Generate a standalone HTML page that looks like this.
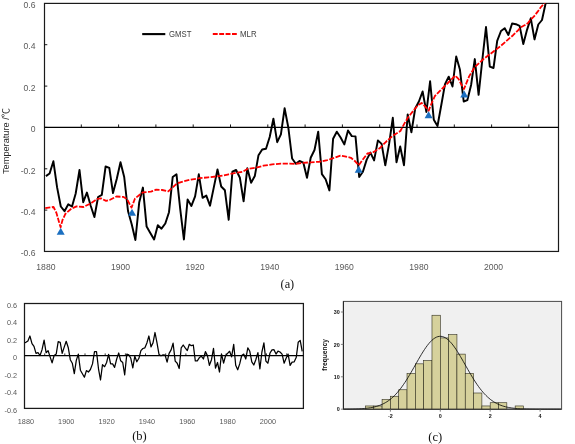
<!DOCTYPE html>
<html><head><meta charset="utf-8"><title>Figure</title>
<style>
html,body{margin:0;padding:0;background:#fff;}
svg{display:block;}
text{font-family:"Liberation Sans","Noto Sans CJK SC",sans-serif;}
.ax{font-size:8.6px;fill:#595959;}
.axb{font-size:7.3px;fill:#595959;}
.yt{font-size:8.6px;fill:#262626;}
.lg{font-size:8.6px;fill:#404040;}
.cap{font-family:"Liberation Serif",serif;font-size:12.3px;fill:#111;}
.cap2{font-family:"Liberation Serif",serif;font-size:12.5px;fill:#111;}
.cx{font-size:5.4px;fill:#111;font-weight:bold;}
.cy{font-size:6.6px;fill:#111;font-weight:bold;}
</style></head><body>
<svg width="575" height="444" viewBox="0 0 575 444">
<defs><clipPath id="ca"><rect x="44.5" y="3.2" width="514" height="248.2"/></clipPath></defs>
<rect width="575" height="444" fill="#fff"/>
<rect x="44.5" y="3.4" width="514.0" height="248.04999999999998" fill="none" stroke="#1a1a1a" stroke-width="1.2"/>
<line x1="44.5" y1="127.45" x2="558.5" y2="127.45" stroke="#000" stroke-width="1.3"/>
<line x1="81.3" y1="124.45" x2="81.3" y2="127.45" stroke="#000" stroke-width="0.9"/>
<line x1="118.6" y1="124.45" x2="118.6" y2="127.45" stroke="#000" stroke-width="0.9"/>
<line x1="155.9" y1="124.45" x2="155.9" y2="127.45" stroke="#000" stroke-width="0.9"/>
<line x1="193.2" y1="124.45" x2="193.2" y2="127.45" stroke="#000" stroke-width="0.9"/>
<line x1="230.5" y1="124.45" x2="230.5" y2="127.45" stroke="#000" stroke-width="0.9"/>
<line x1="267.8" y1="124.45" x2="267.8" y2="127.45" stroke="#000" stroke-width="0.9"/>
<line x1="305.1" y1="124.45" x2="305.1" y2="127.45" stroke="#000" stroke-width="0.9"/>
<line x1="342.4" y1="124.45" x2="342.4" y2="127.45" stroke="#000" stroke-width="0.9"/>
<line x1="379.7" y1="124.45" x2="379.7" y2="127.45" stroke="#000" stroke-width="0.9"/>
<line x1="417.0" y1="124.45" x2="417.0" y2="127.45" stroke="#000" stroke-width="0.9"/>
<line x1="454.3" y1="124.45" x2="454.3" y2="127.45" stroke="#000" stroke-width="0.9"/>
<line x1="491.6" y1="124.45" x2="491.6" y2="127.45" stroke="#000" stroke-width="0.9"/>
<line x1="528.9" y1="124.45" x2="528.9" y2="127.45" stroke="#000" stroke-width="0.9"/>
<text x="35.5" y="8.1" text-anchor="end" class="ax">0.6</text>
<line x1="44.5" y1="44.7" x2="47.3" y2="44.7" stroke="#000" stroke-width="0.9"/>
<text x="35.5" y="49.4" text-anchor="end" class="ax">0.4</text>
<line x1="44.5" y1="86.1" x2="47.3" y2="86.1" stroke="#000" stroke-width="0.9"/>
<text x="35.5" y="90.8" text-anchor="end" class="ax">0.2</text>
<line x1="44.5" y1="127.4" x2="47.3" y2="127.4" stroke="#000" stroke-width="0.9"/>
<text x="35.5" y="132.1" text-anchor="end" class="ax">0</text>
<line x1="44.5" y1="168.8" x2="47.3" y2="168.8" stroke="#000" stroke-width="0.9"/>
<text x="35.5" y="173.5" text-anchor="end" class="ax">-0.2</text>
<line x1="44.5" y1="210.1" x2="47.3" y2="210.1" stroke="#000" stroke-width="0.9"/>
<text x="35.5" y="214.8" text-anchor="end" class="ax">-0.4</text>
<text x="35.5" y="256.1" text-anchor="end" class="ax">-0.6</text>
<text x="45.9" y="270" text-anchor="middle" class="ax">1880</text>
<text x="120.5" y="270" text-anchor="middle" class="ax">1900</text>
<text x="195.1" y="270" text-anchor="middle" class="ax">1920</text>
<text x="269.7" y="270" text-anchor="middle" class="ax">1940</text>
<text x="344.3" y="270" text-anchor="middle" class="ax">1960</text>
<text x="418.9" y="270" text-anchor="middle" class="ax">1980</text>
<text x="493.5" y="270" text-anchor="middle" class="ax">2000</text>
<text transform="translate(9.4,141) rotate(-90)" text-anchor="middle" textLength="66" lengthAdjust="spacingAndGlyphs" class="yt">Temperature /℃</text>
<g clip-path="url(#ca)"><polyline points="45.9,176.1 49.6,173.5 53.4,161.3 57.1,187.4 60.8,206.5 64.5,211.2 68.3,204.3 72.0,206.5 75.7,193.5 79.5,170.0 83.2,202.2 86.9,192.6 90.7,205.7 94.4,217.0 98.1,197.0 101.8,194.9 105.6,166.5 109.3,167.9 113.0,193.1 116.8,178.7 120.5,162.2 124.2,177.0 128.0,211.0 131.7,224.3 135.4,240.0 139.2,202.6 142.9,187.6 146.6,226.6 150.3,233.0 154.1,239.5 157.8,225.2 161.5,228.7 165.3,223.5 169.0,212.2 172.7,177.0 176.5,174.3 180.2,208.9 183.9,239.5 187.6,199.5 191.4,205.9 195.1,196.3 198.8,174.3 202.6,197.8 206.3,195.6 210.0,205.7 213.8,187.4 217.5,169.5 221.2,186.5 224.9,190.3 228.7,219.8 232.4,171.7 236.1,170.0 239.9,177.8 243.6,201.3 247.3,168.3 251.1,182.7 254.8,176.1 258.5,155.2 262.2,149.5 266.0,148.8 269.7,137.0 273.4,118.7 277.2,142.2 280.9,134.3 284.6,108.3 288.3,127.4 292.1,158.5 295.8,163.8 299.5,161.0 303.3,162.6 307.0,177.8 310.7,157.8 314.5,150.0 318.2,131.7 321.9,174.1 325.6,179.3 329.4,190.4 333.1,138.7 336.8,131.7 340.6,137.5 344.3,144.4 348.0,130.5 351.8,136.1 355.5,136.4 359.2,177.0 362.9,171.7 366.7,159.6 370.4,152.6 374.1,160.4 377.9,140.4 381.6,143.9 385.3,165.3 389.1,143.9 392.8,117.8 396.5,162.2 400.2,146.5 404.0,165.3 407.7,114.4 411.4,132.3 415.2,108.5 418.9,101.5 422.6,91.5 426.4,112.0 430.1,81.3 433.8,119.7 437.5,126.0 441.3,105.0 445.0,84.1 448.7,76.7 452.5,86.5 456.2,56.5 459.9,69.6 463.7,101.5 467.4,100.1 471.1,85.0 474.8,59.1 478.6,94.8 482.3,60.0 486.0,27.0 489.8,66.6 493.5,68.0 497.2,40.9 501.0,31.0 504.7,28.2 508.4,35.0 512.1,23.5 515.9,24.2 519.6,25.9 523.3,44.0 527.1,29.6 530.8,18.3 534.5,39.4 538.3,24.5 542.0,20.0 545.7,3.0 549.5,-30.0 553.2,-32.0" fill="none" stroke="#000" stroke-width="1.95" stroke-linejoin="round"/>
<polyline points="45.2,208.2 53.5,207.0 56.4,212.8 58.8,221.2 60.6,227.3 62.5,220.0 65.5,213.7 71.3,208.7 76.5,206.4 83.5,207.0 90.4,203.5 97.4,198.8 100.9,198.3 106.1,200.9 109.6,200.0 116.5,196.5 123.5,196.9 127.0,199.1 131.5,207.6 135.0,198.5 140.0,194.5 143.0,192.3 150.9,191.7 156.1,189.7 162.2,190.0 168.3,191.4 172.6,187.4 177.0,183.4 183.9,181.3 190.9,179.6 199.6,178.2 208.3,177.3 217.0,176.4 223.9,175.5 228.7,174.3 237.4,172.6 242.6,171.7 247.8,168.8 254.8,167.9 263.5,165.7 272.2,164.4 280.9,163.6 289.6,163.6 294.8,163.9 301.7,163.0 310.4,162.3 318.7,161.8 327.4,160.1 334.3,157.8 340.4,155.6 344.8,156.4 350.9,157.8 355.2,161.3 358.7,165.3 362.2,160.4 367.4,153.5 372.6,152.6 379.6,148.3 386.5,141.3 393.5,135.2 400.4,131.0 404.2,123.9 408.4,116.9 414.0,109.9 418.2,105.0 421.6,102.9 425.5,106.8 428.6,110.8 431.5,103.5 434.9,96.0 441.9,89.0 448.9,82.0 455.2,75.7 458.7,79.2 461.5,84.8 464.0,89.0 466.3,83.4 469.1,76.4 474.8,67.0 483.5,59.0 492.2,52.5 500.9,45.8 506.8,40.6 513.1,35.2 518.0,30.3 520.8,27.3 525.0,25.0 528.1,22.9 530.1,20.2 534.0,16.4 537.5,11.9 541.0,7.0 544.1,3.6 547.0,0.3" fill="none" stroke="#ff0000" stroke-width="1.8" stroke-dasharray="5.2 1.5" stroke-linejoin="round"/></g>
<polygon points="60.7,227.8 56.7,234.8 64.7,234.8" fill="#1b6fc0"/>
<polygon points="132.0,208.7 128.0,215.7 136.0,215.7" fill="#1b6fc0"/>
<polygon points="358.7,165.7 354.7,172.7 362.7,172.7" fill="#1b6fc0"/>
<polygon points="428.6,111.2 424.6,118.2 432.6,118.2" fill="#1b6fc0"/>
<polygon points="464.2,90.4 460.2,97.4 468.2,97.4" fill="#1b6fc0"/>
<line x1="142.2" y1="34.1" x2="165.3" y2="34.1" stroke="#000" stroke-width="2.1"/>
<text x="169" y="37.2" textLength="22.4" lengthAdjust="spacingAndGlyphs" class="lg">GMST</text>
<line x1="212.8" y1="34.1" x2="236.8" y2="34.1" stroke="#ff0000" stroke-width="2" stroke-dasharray="4.9 1.5"/>
<text x="240" y="37.2" textLength="16.6" lengthAdjust="spacingAndGlyphs" class="lg">MLR</text>
<text x="287.4" y="288.2" text-anchor="middle" class="cap">(a)</text>
<rect x="24.5" y="303.5" width="278.9" height="104.89999999999998" fill="none" stroke="#1a1a1a" stroke-width="1.25"/>
<line x1="24.5" y1="355.6" x2="303.4" y2="355.6" stroke="#000" stroke-width="1.4"/>
<line x1="44.7" y1="353.40000000000003" x2="44.7" y2="355.6" stroke="#000" stroke-width="0.8"/>
<line x1="64.8" y1="353.40000000000003" x2="64.8" y2="355.6" stroke="#000" stroke-width="0.8"/>
<line x1="85.0" y1="353.40000000000003" x2="85.0" y2="355.6" stroke="#000" stroke-width="0.8"/>
<line x1="105.2" y1="353.40000000000003" x2="105.2" y2="355.6" stroke="#000" stroke-width="0.8"/>
<line x1="125.4" y1="353.40000000000003" x2="125.4" y2="355.6" stroke="#000" stroke-width="0.8"/>
<line x1="145.5" y1="353.40000000000003" x2="145.5" y2="355.6" stroke="#000" stroke-width="0.8"/>
<line x1="165.7" y1="353.40000000000003" x2="165.7" y2="355.6" stroke="#000" stroke-width="0.8"/>
<line x1="185.9" y1="353.40000000000003" x2="185.9" y2="355.6" stroke="#000" stroke-width="0.8"/>
<line x1="206.0" y1="353.40000000000003" x2="206.0" y2="355.6" stroke="#000" stroke-width="0.8"/>
<line x1="226.2" y1="353.40000000000003" x2="226.2" y2="355.6" stroke="#000" stroke-width="0.8"/>
<line x1="246.4" y1="353.40000000000003" x2="246.4" y2="355.6" stroke="#000" stroke-width="0.8"/>
<line x1="266.5" y1="353.40000000000003" x2="266.5" y2="355.6" stroke="#000" stroke-width="0.8"/>
<line x1="286.7" y1="353.40000000000003" x2="286.7" y2="355.6" stroke="#000" stroke-width="0.8"/>
<text x="17.1" y="307.6" text-anchor="end" class="axb">0.6</text>
<text x="17.1" y="325.1" text-anchor="end" class="axb">0.4</text>
<text x="17.1" y="342.6" text-anchor="end" class="axb">0.2</text>
<text x="17.1" y="360.0" text-anchor="end" class="axb">0</text>
<text x="17.1" y="377.5" text-anchor="end" class="axb">-0.2</text>
<text x="17.1" y="395.0" text-anchor="end" class="axb">-0.4</text>
<text x="17.1" y="412.5" text-anchor="end" class="axb">-0.6</text>
<text x="25.9" y="424.2" text-anchor="middle" class="axb">1880</text>
<text x="66.2" y="424.2" text-anchor="middle" class="axb">1900</text>
<text x="106.6" y="424.2" text-anchor="middle" class="axb">1920</text>
<text x="146.9" y="424.2" text-anchor="middle" class="axb">1940</text>
<text x="187.3" y="424.2" text-anchor="middle" class="axb">1960</text>
<text x="227.6" y="424.2" text-anchor="middle" class="axb">1980</text>
<text x="267.9" y="424.2" text-anchor="middle" class="axb">2000</text>
<polyline points="24.9,342.6 25.9,342.3 27.9,340.9 29.9,336.0 32.0,343.6 34.0,346.4 36.0,353.4 38.0,352.7 40.0,355.5 42.0,349.9 44.1,340.2 46.1,352.7 48.1,350.6 50.1,356.9 52.1,362.8 54.1,355.5 56.2,354.1 58.2,341.6 60.2,342.3 62.2,353.4 64.2,347.1 66.2,341.3 68.3,347.8 70.3,359.7 72.3,363.2 74.3,373.7 76.3,360.4 78.3,354.1 80.4,370.2 82.4,373.7 84.4,377.2 86.4,370.6 88.4,372.0 90.4,369.5 92.5,363.9 94.5,351.6 96.5,351.6 98.5,368.8 100.5,380.0 102.5,364.6 104.6,366.7 106.6,362.5 108.6,354.4 110.6,363.9 112.6,363.9 114.6,367.4 116.7,359.0 118.7,353.0 120.7,360.8 122.7,362.5 124.7,374.8 126.8,354.1 128.8,354.8 130.8,358.3 132.8,367.8 134.8,356.2 136.8,361.8 138.9,358.3 140.9,350.6 142.9,348.5 144.9,347.8 146.9,342.9 148.9,336.0 151.0,346.9 153.0,342.9 155.0,332.5 157.0,342.9 159.0,354.4 161.0,355.8 163.1,354.8 165.1,355.2 167.1,362.2 169.1,353.4 171.1,349.9 173.1,343.2 175.2,361.1 177.2,363.2 179.2,368.5 181.2,347.8 183.2,345.0 185.2,347.8 187.3,350.6 189.3,344.3 191.3,345.7 193.3,345.0 195.3,360.8 197.3,360.8 199.4,357.6 201.4,356.2 203.4,359.0 205.4,351.6 207.4,355.5 209.4,365.3 211.5,359.7 213.5,348.3 215.5,368.1 217.5,362.5 219.5,372.0 221.5,353.8 223.6,363.2 225.6,355.5 227.6,353.4 229.6,351.3 231.6,356.9 233.7,344.3 235.7,365.3 237.7,369.8 239.7,363.9 241.7,355.5 243.7,354.1 245.8,359.0 247.8,347.8 249.8,351.3 251.8,361.8 253.8,365.0 255.8,359.7 257.9,352.7 259.9,368.8 261.9,352.0 263.9,342.9 265.9,361.1 267.9,363.2 270.0,353.0 272.0,349.9 274.0,349.7 276.0,354.1 278.0,351.1 280.0,352.0 282.1,354.1 284.1,363.2 286.1,358.3 288.1,354.1 290.1,365.3 292.1,362.2 294.2,361.8 296.2,357.6 298.2,342.3 300.2,340.4 302.2,351.3" fill="none" stroke="#000" stroke-width="1.25" stroke-linejoin="round"/>
<text x="139.5" y="440.3" text-anchor="middle" class="cap2">(b)</text>
<rect x="343.4" y="301.4" width="218.20000000000005" height="107.80000000000001" fill="#f0f0f0" stroke="#4a4a4a" stroke-width="1"/>
<rect x="365.45" y="405.96" width="8.32" height="3.24" fill="#d6d19c" stroke="#2e2c1c" stroke-width="0.6"/>
<rect x="373.77" y="405.96" width="8.32" height="3.24" fill="#d6d19c" stroke="#2e2c1c" stroke-width="0.6"/>
<rect x="382.08" y="399.48" width="8.32" height="9.72" fill="#d6d19c" stroke="#2e2c1c" stroke-width="0.6"/>
<rect x="390.40" y="396.24" width="8.32" height="12.96" fill="#d6d19c" stroke="#2e2c1c" stroke-width="0.6"/>
<rect x="398.72" y="389.76" width="8.32" height="19.44" fill="#d6d19c" stroke="#2e2c1c" stroke-width="0.6"/>
<rect x="407.03" y="373.56" width="8.32" height="35.64" fill="#d6d19c" stroke="#2e2c1c" stroke-width="0.6"/>
<rect x="415.35" y="363.84" width="8.32" height="45.36" fill="#d6d19c" stroke="#2e2c1c" stroke-width="0.6"/>
<rect x="423.67" y="360.60" width="8.32" height="48.60" fill="#d6d19c" stroke="#2e2c1c" stroke-width="0.6"/>
<rect x="431.98" y="315.24" width="8.32" height="93.96" fill="#d6d19c" stroke="#2e2c1c" stroke-width="0.6"/>
<rect x="440.30" y="337.92" width="8.32" height="71.28" fill="#d6d19c" stroke="#2e2c1c" stroke-width="0.6"/>
<rect x="448.62" y="334.68" width="8.32" height="74.52" fill="#d6d19c" stroke="#2e2c1c" stroke-width="0.6"/>
<rect x="456.93" y="354.12" width="8.32" height="55.08" fill="#d6d19c" stroke="#2e2c1c" stroke-width="0.6"/>
<rect x="465.25" y="373.56" width="8.32" height="35.64" fill="#d6d19c" stroke="#2e2c1c" stroke-width="0.6"/>
<rect x="473.57" y="393.00" width="8.32" height="16.20" fill="#d6d19c" stroke="#2e2c1c" stroke-width="0.6"/>
<rect x="481.88" y="405.96" width="8.32" height="3.24" fill="#d6d19c" stroke="#2e2c1c" stroke-width="0.6"/>
<rect x="490.20" y="402.72" width="8.32" height="6.48" fill="#d6d19c" stroke="#2e2c1c" stroke-width="0.6"/>
<rect x="498.52" y="402.72" width="8.32" height="6.48" fill="#d6d19c" stroke="#2e2c1c" stroke-width="0.6"/>
<rect x="515.15" y="405.96" width="8.32" height="3.24" fill="#d6d19c" stroke="#2e2c1c" stroke-width="0.6"/>
<polyline points="343.4,409.16 344.9,409.15 346.4,409.14 347.9,409.12 349.4,409.10 350.9,409.08 352.4,409.05 353.9,409.01 355.4,408.97 356.9,408.92 358.4,408.86 359.9,408.79 361.4,408.70 362.9,408.60 364.4,408.47 365.9,408.33 367.4,408.16 368.9,407.97 370.4,407.74 371.9,407.47 373.4,407.17 374.9,406.82 376.4,406.42 377.9,405.96 379.4,405.45 380.9,404.87 382.4,404.21 383.9,403.48 385.4,402.66 386.9,401.75 388.4,400.75 389.9,399.65 391.4,398.44 392.9,397.12 394.4,395.69 395.9,394.14 397.4,392.48 398.9,390.70 400.4,388.80 401.9,386.79 403.4,384.67 404.9,382.45 406.4,380.13 407.9,377.72 409.4,375.24 410.9,372.69 412.4,370.09 413.9,367.46 415.4,364.81 416.9,362.16 418.4,359.53 419.9,356.94 421.4,354.42 422.9,351.98 424.4,349.65 425.9,347.44 427.4,345.39 428.9,343.50 430.4,341.80 431.9,340.30 433.4,339.02 434.9,337.98 436.4,337.18 437.9,336.64 439.4,336.35 440.9,336.32 442.4,336.56 443.9,337.05 445.4,337.80 446.9,338.80 448.4,340.03 449.9,341.48 451.4,343.14 452.9,345.00 454.4,347.02 455.9,349.20 457.4,351.51 458.9,353.93 460.4,356.43 461.9,359.01 463.4,361.63 464.9,364.28 466.4,366.93 467.9,369.57 469.4,372.17 470.9,374.73 472.4,377.23 473.9,379.65 475.4,381.99 476.9,384.24 478.4,386.38 479.9,388.41 481.4,390.33 482.9,392.13 484.4,393.82 485.9,395.39 487.4,396.84 488.9,398.18 490.4,399.41 491.9,400.54 493.4,401.56 494.9,402.49 496.4,403.32 497.9,404.07 499.4,404.74 500.9,405.34 502.4,405.87 503.9,406.33 505.4,406.74 506.9,407.10 508.4,407.42 509.9,407.69 511.4,407.92 512.9,408.12 514.4,408.30 515.9,408.45 517.4,408.57 518.9,408.68 520.4,408.77 521.9,408.85 523.4,408.91 524.9,408.96 526.4,409.01 527.9,409.04 529.4,409.07 530.9,409.10 532.4,409.12 533.9,409.13 535.4,409.15 536.9,409.16 538.4,409.17 539.9,409.17 541.4,409.18 542.9,409.18 544.4,409.19 545.9,409.19 547.4,409.19 548.9,409.19 550.4,409.20 551.9,409.20 553.4,409.20 554.9,409.20 556.4,409.20 557.9,409.20 559.4,409.20 560.9,409.20" fill="none" stroke="#000" stroke-width="0.8"/>
<line x1="343.4" y1="409.2" x2="561.6" y2="409.2" stroke="#333" stroke-width="1"/>
<line x1="343.4" y1="301.4" x2="343.4" y2="409.2" stroke="#222" stroke-width="1"/>
<line x1="340.9" y1="409.2" x2="343.4" y2="409.2" stroke="#666" stroke-width="0.8"/>
<text x="339.8" y="411.4" text-anchor="end" class="cx">0</text>
<line x1="340.9" y1="376.8" x2="343.4" y2="376.8" stroke="#666" stroke-width="0.8"/>
<text x="339.8" y="379.0" text-anchor="end" class="cx">10</text>
<line x1="340.9" y1="344.4" x2="343.4" y2="344.4" stroke="#666" stroke-width="0.8"/>
<text x="339.8" y="346.6" text-anchor="end" class="cx">20</text>
<line x1="340.9" y1="312.0" x2="343.4" y2="312.0" stroke="#666" stroke-width="0.8"/>
<text x="339.8" y="314.2" text-anchor="end" class="cx">30</text>
<line x1="390.4" y1="409.2" x2="390.4" y2="411.7" stroke="#666" stroke-width="0.8"/>
<text x="390.4" y="417.6" text-anchor="middle" class="cx">-2</text>
<line x1="440.3" y1="409.2" x2="440.3" y2="411.7" stroke="#666" stroke-width="0.8"/>
<text x="440.3" y="417.6" text-anchor="middle" class="cx">0</text>
<line x1="490.2" y1="409.2" x2="490.2" y2="411.7" stroke="#666" stroke-width="0.8"/>
<text x="490.2" y="417.6" text-anchor="middle" class="cx">2</text>
<line x1="540.1" y1="409.2" x2="540.1" y2="411.7" stroke="#666" stroke-width="0.8"/>
<text x="540.1" y="417.6" text-anchor="middle" class="cx">4</text>
<text transform="translate(326.6,354.9) rotate(-90)" text-anchor="middle" class="cy">frequency</text>
<text x="435.3" y="440.5" text-anchor="middle" class="cap2">(c)</text>
</svg>
</body></html>
